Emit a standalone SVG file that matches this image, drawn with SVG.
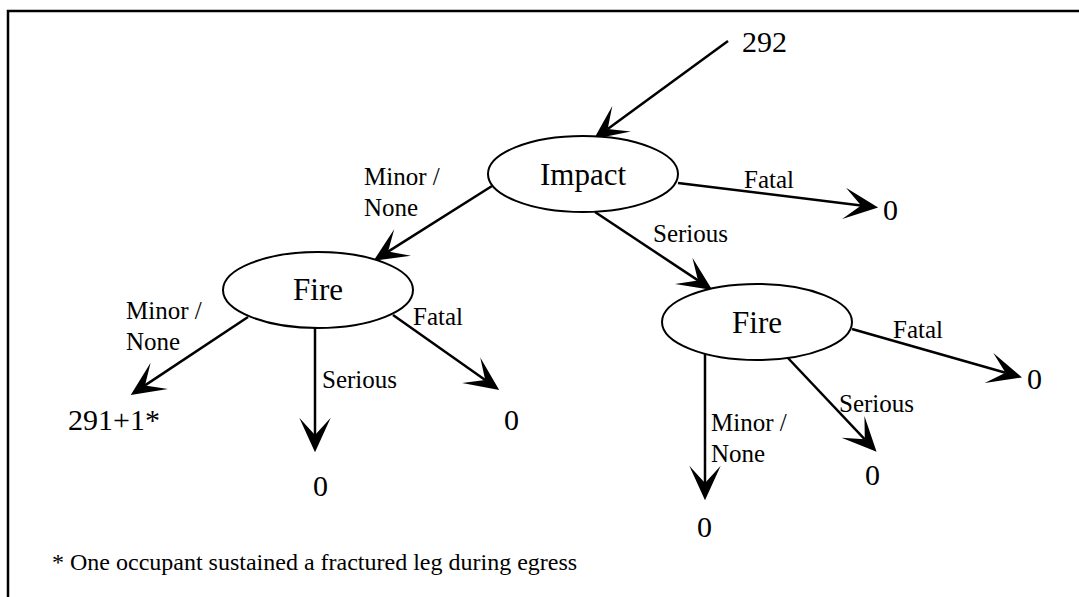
<svg xmlns="http://www.w3.org/2000/svg" width="1079" height="597" viewBox="0 0 1079 597">
<defs>
<style>
text{font-family:"Liberation Serif","Times New Roman",Tinos,"DejaVu Serif",serif;fill:#000}
.big{font-size:30px}
.node{font-size:31px}
.lab{font-size:25px}
.note{font-size:24px}
ellipse{fill:#fff;stroke:#000;stroke-width:2}
.c line{stroke:#000;stroke-width:2.5;marker-end:url(#ah)}
</style>
<marker id="ah" markerUnits="userSpaceOnUse" orient="auto" refX="0" refY="0" markerWidth="40" markerHeight="40" viewBox="-14 -14 28 28" overflow="visible">
<path d="M12,0 L-12,-11 L0,0 L-12,11 Z" fill="#000"/>
</marker>
</defs>
<rect width="1079" height="597" fill="#fff"/>
<path d="M8,597 L8,11 L1079,11" fill="none" stroke="#000" stroke-width="2.5"/>
<g class="c" id="connectors">
<line x1="728" y1="41" x2="607.7" y2="128.9"/>
<line x1="678" y1="183" x2="861.1" y2="205.5"/>
<line x1="492" y1="186" x2="388.1" y2="251.6"/>
<line x1="595" y1="212" x2="698" y2="280.4"/>
<line x1="248" y1="317" x2="145" y2="385.4"/>
<line x1="315" y1="328" x2="315" y2="435"/>
<line x1="393" y1="315" x2="485.2" y2="380.1"/>
<line x1="852" y1="329" x2="1005.5" y2="372.7"/>
<line x1="787" y1="357" x2="864.8" y2="439.3"/>
<line x1="705" y1="353" x2="705" y2="483"/>
</g>
<g id="impact">
<ellipse cx="583" cy="174" rx="95" ry="38"/>
<text class="node" x="583" y="185" text-anchor="middle" font-family="Liberation Serif, serif">Impact</text>
</g>
<g id="fire-left">
<ellipse cx="318" cy="290" rx="95" ry="38"/>
<text class="node" x="318" y="300" text-anchor="middle">Fire</text>
</g>
<g id="fire-right">
<ellipse cx="757" cy="322" rx="95" ry="38"/>
<text class="node" x="757" y="333" text-anchor="middle">Fire</text>
</g>
<g id="labels">
<text class="big" x="742" y="52">292</text>
<text class="lab" x="744" y="188">Fatal</text>
<text class="big" x="883" y="220">0</text>
<text class="lab" x="364" y="185">Minor /</text>
<text class="lab" x="364" y="216">None</text>
<text class="lab" x="653" y="242">Serious</text>
<text class="lab" x="126" y="319">Minor /</text>
<text class="lab" x="126" y="350">None</text>
<text class="lab" x="322" y="388">Serious</text>
<text class="lab" x="413" y="325">Fatal</text>
<text class="big" x="68" y="430">291+1*</text>
<text class="big" x="313" y="496">0</text>
<text class="big" x="504" y="430">0</text>
<text class="lab" x="893" y="338">Fatal</text>
<text class="big" x="1027" y="389">0</text>
<text class="lab" x="839" y="412">Serious</text>
<text class="big" x="865" y="485">0</text>
<text class="lab" x="711" y="431">Minor /</text>
<text class="lab" x="711" y="462">None</text>
<text class="big" x="697" y="537">0</text>
<text class="note" x="52" y="570">* One occupant sustained a fractured leg during egress</text>
</g>
</svg>
